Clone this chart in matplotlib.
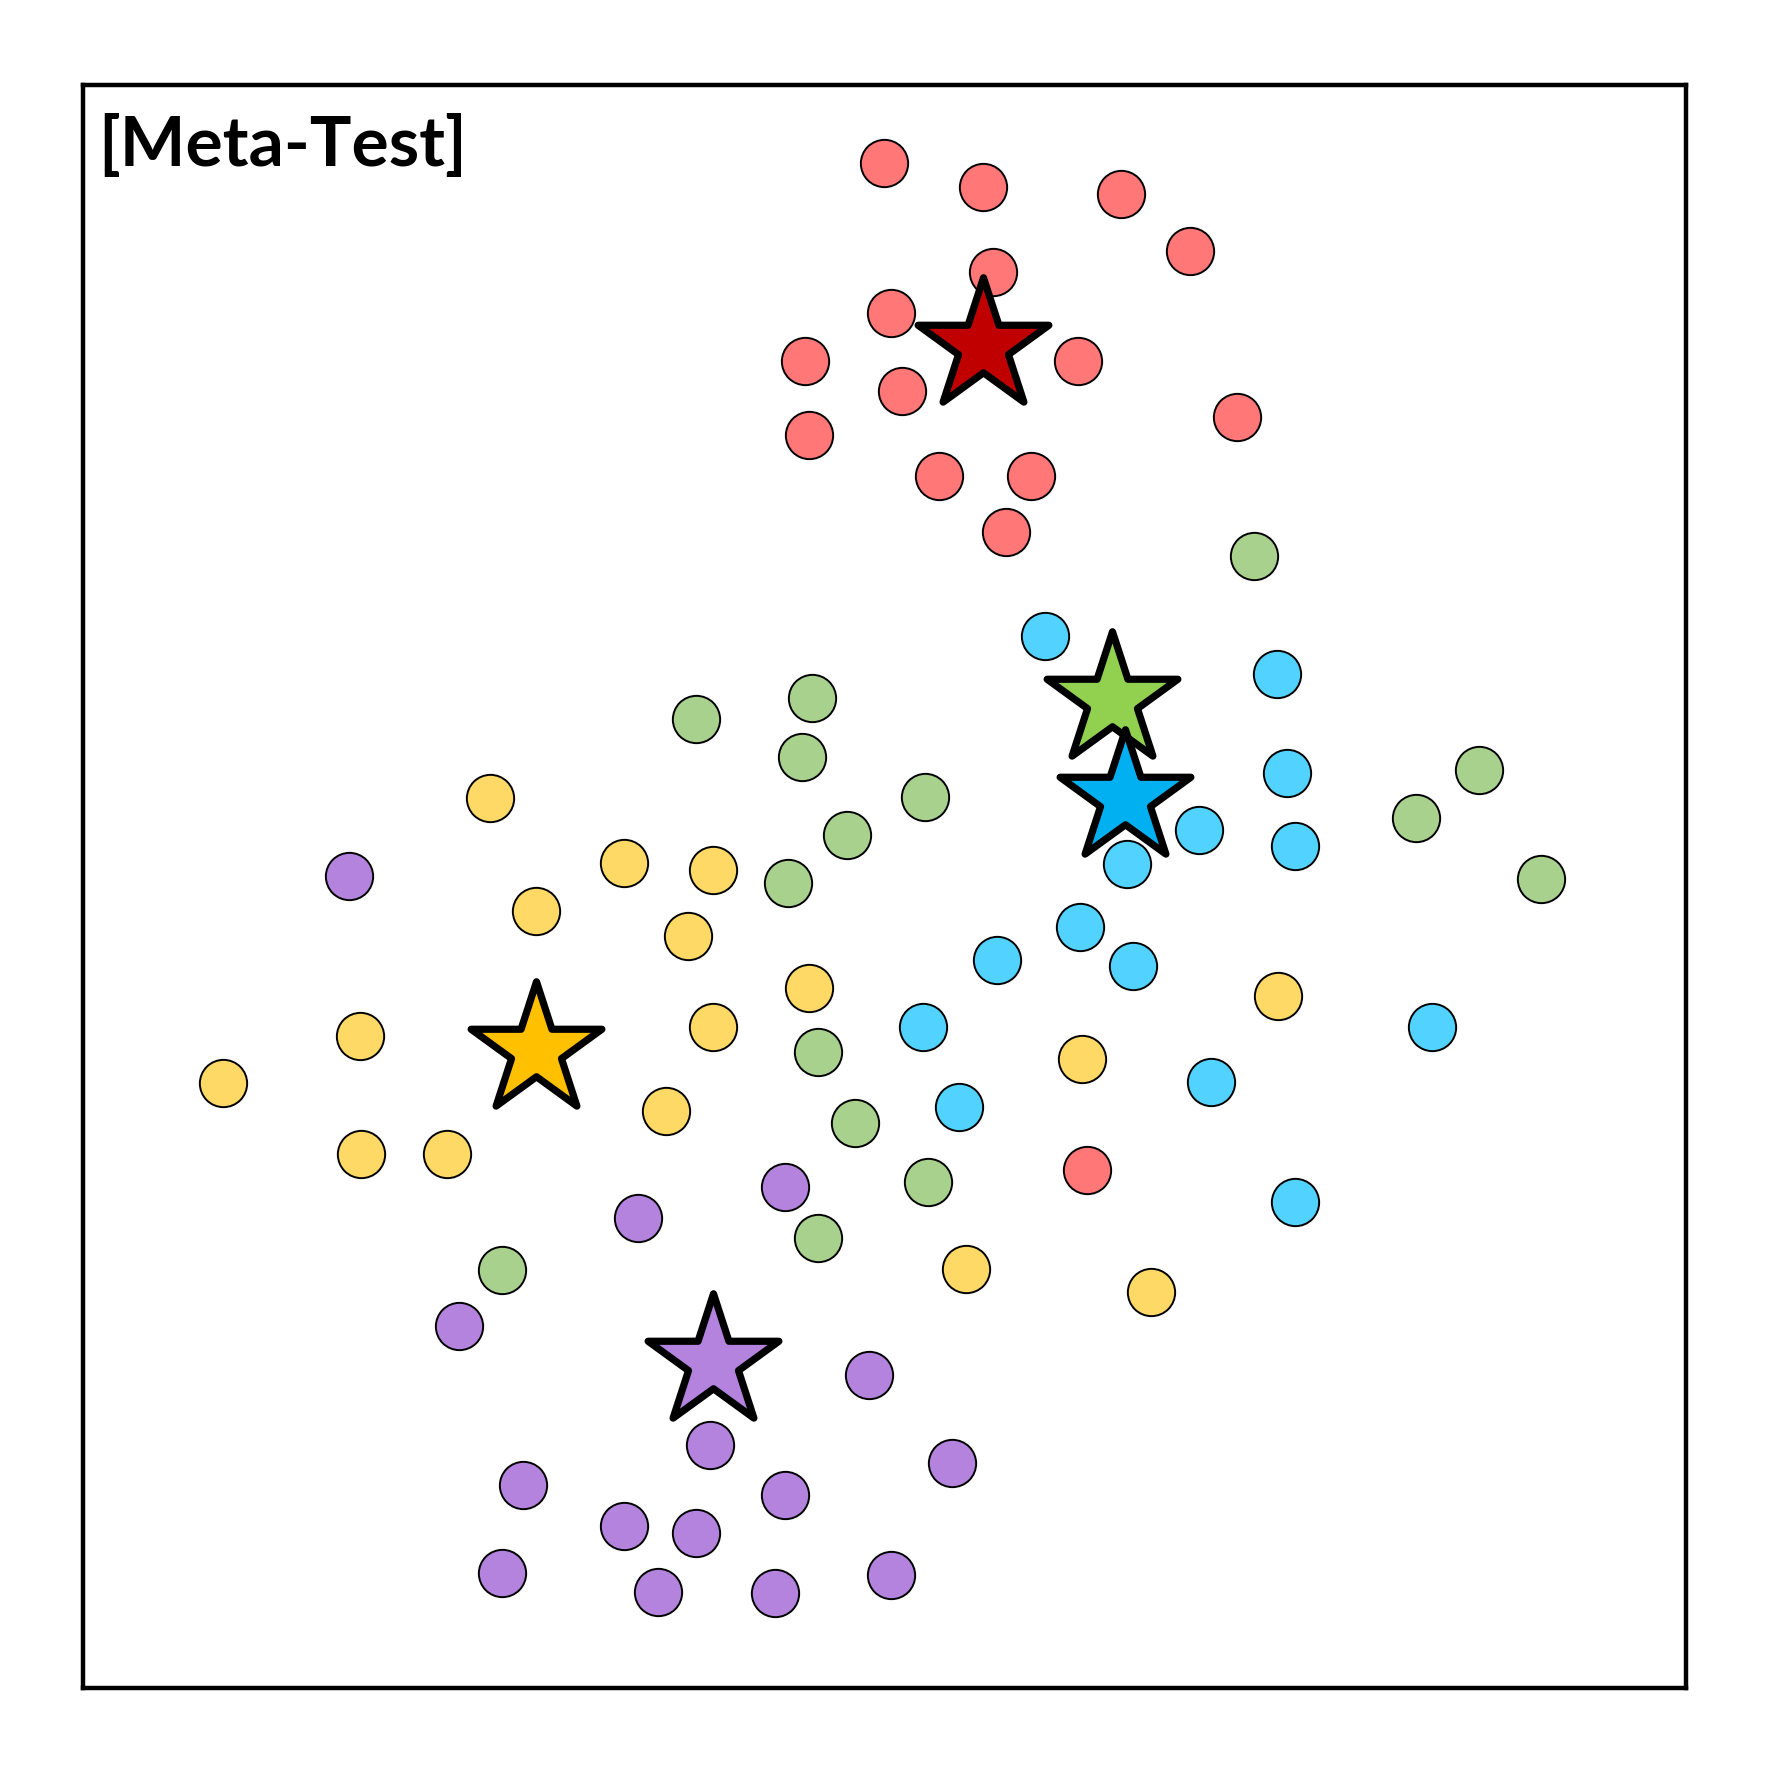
import matplotlib
matplotlib.use("Agg")
import matplotlib.pyplot as plt

# embedding coordinates (x to the right, y downwards)
red_x = [782, 869, 991, 1052, 878, 788, 712, 953, 798, 1094, 715, 830, 912, 890, 961]
red_y = [144, 165, 171, 222, 240, 277, 319, 319, 346, 369, 385, 421, 421, 470, 1035]

green_x = [1109, 615, 718, 709, 818, 749, 697, 1308, 1252, 1363, 723, 756, 821, 723, 444]
green_y = [492, 636, 617, 669, 705, 738, 781, 681, 723, 777, 930, 993, 1045, 1095, 1123]

blue_x = [924, 1129, 1138, 1060, 1145, 997, 955, 882, 1002, 816, 1266, 848, 1071, 1145]
blue_y = [562, 596, 684, 734, 748, 764, 820, 849, 854, 908, 908, 979, 957, 1063]

yellow_x = [433, 552, 630, 474, 608, 715, 318, 630, 197, 589, 319, 395, 957, 1130, 854, 1018]
yellow_y = [706, 763, 769, 806, 828, 874, 916, 908, 958, 983, 1021, 1021, 937, 881, 1122, 1143]

purple_x = [308, 564, 694, 406, 768, 628, 842, 462, 694, 552, 615, 444, 582, 685, 788]
purple_y = [775, 1077, 1050, 1173, 1216, 1278, 1294, 1313, 1322, 1350, 1356, 1391, 1408, 1409, 1393]

# class prototypes (stars)
proto_x = [869, 983, 995, 474, 630]
proto_y = [306, 619, 706, 929, 1205]
proto_colors = ["#C00000", "#92D050", "#00B0F0", "#FFC000", "#B383DE"]

point_sets = [
    (red_x, red_y, "#FF7777"),
    (green_x, green_y, "#A9D18E"),
    (blue_x, blue_y, "#52D3FF"),
    (yellow_x, yellow_y, "#FFD966"),
    (purple_x, purple_y, "#B383DE"),
]

fig = plt.figure(figsize=(8.86, 8.86), dpi=200)
ax = fig.add_axes([0.0468, 0.0474, 0.9046, 0.9046])

for xs, ys, c in point_sets:
    ax.scatter(xs, ys, s=290, c=c, edgecolors="black", linewidths=0.7, zorder=2)

for i in range(len(proto_x)):
    ax.scatter(proto_x[i], proto_y[i], marker="*", s=2450, c=proto_colors[i],
               edgecolors="black", linewidths=2.6, zorder=3 + i)

ax.set_xlim(73, 1491)
ax.set_ylim(1493, 75)
ax.set_xticks([])
ax.set_yticks([])
for sp in ax.spines.values():
    sp.set_linewidth(1.6)
    sp.set_color("black")

ax.text(0.0095, 0.982, "[Meta-Test]", transform=ax.transAxes, ha="left", va="top",
        fontsize=25, fontweight="bold", family=["Lato", "DejaVu Sans"])

fig.savefig("out.png", dpi=200)
